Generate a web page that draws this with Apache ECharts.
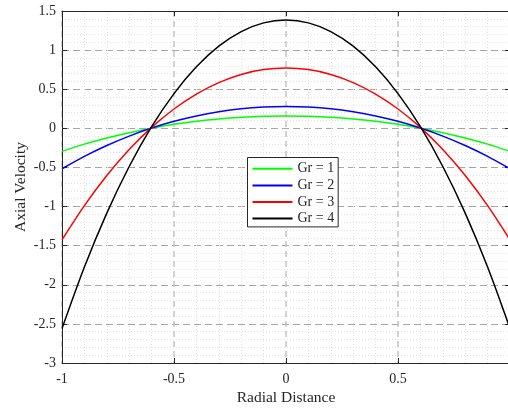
<!DOCTYPE html>
<html>
<head>
<meta charset="utf-8">
<script src="https://cdn.jsdelivr.net/npm/echarts@6/dist/echarts.min.js"></script>
<style>
html,body{margin:0;padding:0;background:#fff;overflow:hidden;}
#chart{width:508px;height:411px;}
</style>
</head>
<body>
<div id="chart"></div>
<script>
var xValues = [-1, -0.9, -0.8, -0.7, -0.6, -0.5, -0.4, -0.3, -0.2, -0.1, 0, 0.1, 0.2, 0.3, 0.4, 0.5, 0.6, 0.7, 0.8, 0.9, 1];
var gr1 = [-0.295, -0.202, -0.124, -0.056, 0.002, 0.051, 0.090, 0.120, 0.141, 0.154, 0.157, 0.154, 0.141, 0.120, 0.090, 0.051, 0.002, -0.056, -0.124, -0.202, -0.295];
var gr2 = [-0.517, -0.358, -0.219, -0.099, 0.004, 0.090, 0.159, 0.212, 0.250, 0.272, 0.280, 0.272, 0.250, 0.212, 0.159, 0.090, 0.004, -0.099, -0.219, -0.358, -0.517];
var gr3 = [-1.426, -0.988, -0.604, -0.272, 0.012, 0.247, 0.438, 0.585, 0.689, 0.751, 0.771, 0.751, 0.689, 0.585, 0.438, 0.247, 0.012, -0.272, -0.604, -0.988, -1.426];
var gr4 = [-2.56, -1.773, -1.084, -0.488, 0.021, 0.444, 0.786, 1.050, 1.237, 1.348, 1.385, 1.348, 1.237, 1.050, 0.786, 0.444, 0.021, -0.488, -1.084, -1.773, -2.56];
var seriesNames = ['Gr = 1', 'Gr = 2', 'Gr = 3', 'Gr = 4'];
var seriesColors = ['#00ff00', '#0000ff', '#ff0000', '#000000'];
var seriesValues = [gr1, gr2, gr3, gr4];
var xAxisName = 'Radial Distance';
var yAxisName = 'Axial Velocity';

var FONT = '"Liberation Serif", "Times New Roman", serif';
var AX = '#262626';

function pairs(ys) {
  return xValues.map(function (x, i) { return [x, ys[i]]; });
}

var chart = echarts.init(document.getElementById('chart'), null, {renderer: 'canvas'});
var option = {
  animation: false,
  backgroundColor: '#fff',
  grid: {left: 62, top: 11, width: 448, height: 352, containLabel: false, outerBoundsMode: 'none'},
  legend: {
    orient: 'vertical',
    left: 247.5,
    top: 157.5,
    data: seriesNames,
    icon: 'rect',
    itemWidth: 40,
    itemHeight: 2,
    itemGap: 0,
    padding: [3, 4, 0, 5],
    borderColor: AX,
    borderWidth: 1,
    backgroundColor: '#fff',
    textStyle: {fontFamily: FONT, fontSize: 14, color: AX, lineHeight: 16.6}
  },
  xAxis: [{
    type: 'value', min: -1, max: 1, interval: 0.5, position: 'bottom',
    name: xAxisName, nameLocation: 'middle', nameGap: 27, nameMoveOverlap: false,
    nameTextStyle: {fontFamily: FONT, fontSize: 15.5, color: AX},
    axisLine: {onZero: false, lineStyle: {color: AX, width: 1}},
    axisTick: {inside: true, length: 5, lineStyle: {color: AX}},
    axisLabel: {fontFamily: FONT, fontSize: 14, color: AX, margin: 9,
      formatter: function (v) { return v === 1 ? '' : String(v); }},
    splitLine: {show: true, lineStyle: {color: '#c4c4c4', width: 1.5, type: [6, 4]}},
    minorTick: {show: false, splitNumber: 5},
    minorSplitLine: {show: true, lineStyle: {color: '#e2e2e2', width: 1, type: [1, 2]}}
  }, {
    type: 'value', min: -1, max: 1, interval: 0.5, position: 'top',
    axisLine: {onZero: false, lineStyle: {color: AX, width: 1}},
    axisTick: {inside: true, length: 5, lineStyle: {color: AX}},
    axisLabel: {show: false},
    splitLine: {show: false}
  }],
  yAxis: [{
    type: 'value', min: -3, max: 1.5, interval: 0.5, position: 'left',
    name: yAxisName, nameLocation: 'middle', nameGap: 33, nameMoveOverlap: false,
    nameTextStyle: {fontFamily: FONT, fontSize: 15.5, color: AX},
    axisLine: {show: true, onZero: false, lineStyle: {color: AX, width: 1}},
    axisTick: {show: true, inside: true, length: 5, lineStyle: {color: AX}},
    axisLabel: {fontFamily: FONT, fontSize: 14, color: AX, margin: 6},
    splitLine: {show: true, lineStyle: {color: '#a6a6a6', width: 1, type: [7, 4]}},
    minorTick: {show: false, splitNumber: 5},
    minorSplitLine: {show: true, lineStyle: {color: '#e2e2e2', width: 1, type: [1, 2]}}
  }, {
    type: 'value', min: -3, max: 1.5, interval: 0.5, position: 'right',
    axisLine: {show: true, onZero: false, lineStyle: {color: AX, width: 1}},
    axisTick: {show: true, inside: true, length: 5, lineStyle: {color: AX}},
    axisLabel: {show: false},
    splitLine: {show: false}
  }],
  series: seriesValues.map(function (vals, i) {
    return {
      name: seriesNames[i],
      type: 'line',
      data: pairs(vals),
      smooth: 0.3,
      showSymbol: false,
      symbol: 'none',
      lineStyle: {color: seriesColors[i], width: 1.5},
      itemStyle: {color: seriesColors[i]},
      z: 3 + i
    };
  })
};
chart.setOption(option);
</script>
</body>
</html>
